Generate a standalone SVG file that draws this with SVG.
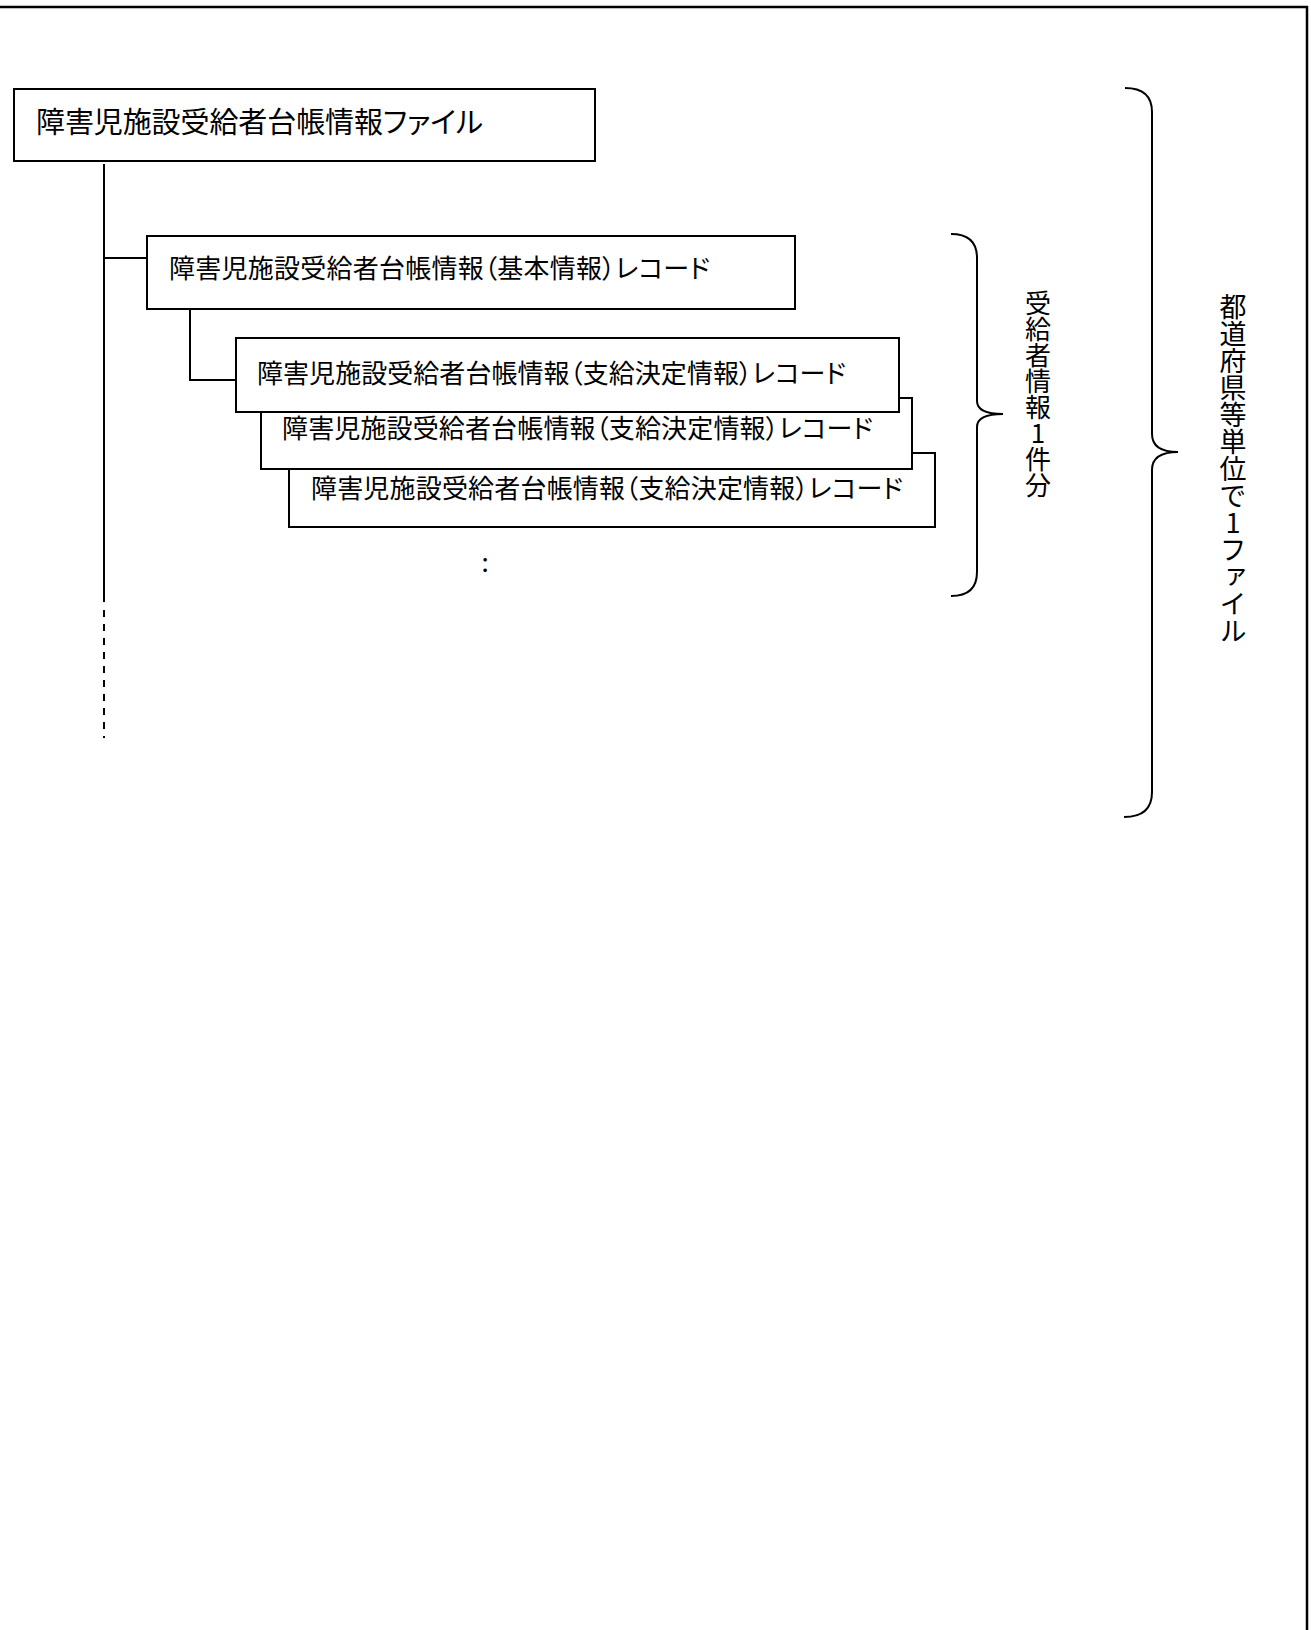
<svg xmlns="http://www.w3.org/2000/svg" width="1311" height="1630" viewBox="0 0 1311 1630">
<style>
  .box { fill: #ffffff; stroke: #000000; stroke-width: 2; }
  .lbl { font-family: "Noto Sans CJK JP", "Noto Sans CJK SC", sans-serif; fill: #000000; font-feature-settings: "palt"; }
  .line { fill: none; stroke: #000000; stroke-width: 2; }
  .vert { font-family: "Noto Sans CJK JP", "Noto Sans CJK SC", sans-serif; fill: #000000; writing-mode: vertical-rl; text-orientation: upright; }
</style>
<rect width="1311" height="1630" fill="#ffffff"/>
<g id="frame">
  <line x1="0" y1="7" x2="1308" y2="7" stroke="#000" stroke-width="2.5"/>
  <line x1="1307" y1="6" x2="1307" y2="1630" stroke="#000" stroke-width="2.5"/>
</g>
<g id="connectors">
  <line class="line" x1="104" y1="164" x2="104" y2="602"/>
  <line class="line" x1="104" y1="610" x2="104" y2="738" stroke-dasharray="7 7"/>
  <line class="line" x1="104" y1="258" x2="147" y2="258"/>
  <polyline class="line" points="190,309 190,380 236,380"/>
</g>
<g id="node-file">
  <rect class="box" x="14" y="89" width="581" height="72"/>
  <text class="lbl" x="36" y="133" font-size="29" textLength="447" lengthAdjust="spacing">障害児施設受給者台帳情報ファイル</text>
</g>
<g id="node-basic">
  <rect class="box" x="147" y="236" width="648" height="73"/>
  <text class="lbl" x="169" y="278" font-size="26" textLength="541" lengthAdjust="spacing">障害児施設受給者台帳情報（基本情報）レコード</text>
</g>
<g id="node-decision-3">
  <rect class="box" x="289" y="453" width="646" height="74"/>
  <text class="lbl" x="311" y="498" font-size="26" textLength="592" lengthAdjust="spacing">障害児施設受給者台帳情報（支給決定情報）レコード</text>
</g>
<g id="node-decision-2">
  <rect class="box" x="261" y="398" width="651" height="71"/>
  <text class="lbl" x="282" y="438" font-size="26" textLength="591" lengthAdjust="spacing">障害児施設受給者台帳情報（支給決定情報）レコード</text>
</g>
<g id="node-decision-1">
  <rect class="box" x="236" y="338" width="663" height="74"/>
  <text class="lbl" x="257" y="383" font-size="26" textLength="589" lengthAdjust="spacing">障害児施設受給者台帳情報（支給決定情報）レコード</text>
</g>
<g id="ellipsis">
  <text class="lbl" x="485" y="572" font-size="26" text-anchor="middle">:</text>
</g>
<g id="brace-record">
  <path class="line" d="M951,234 Q977,234 977,258 L977,401 Q977,414 1003,414 Q977,414 977,427 L977,572 Q977,596 951,596"/>
  <text class="vert" x="1038" y="290" font-size="26">受給者情報1件分</text>
</g>
<g id="brace-file">
  <path class="line" d="M1125,88 Q1152,88 1152,112 L1152,434 Q1152,452 1178,452 Q1152,452 1152,470 L1152,792 Q1152,817 1124,817"/>
  <text class="vert" x="1233" y="293" font-size="27">都道府県等単位で1ファイル</text>
</g>
</svg>
